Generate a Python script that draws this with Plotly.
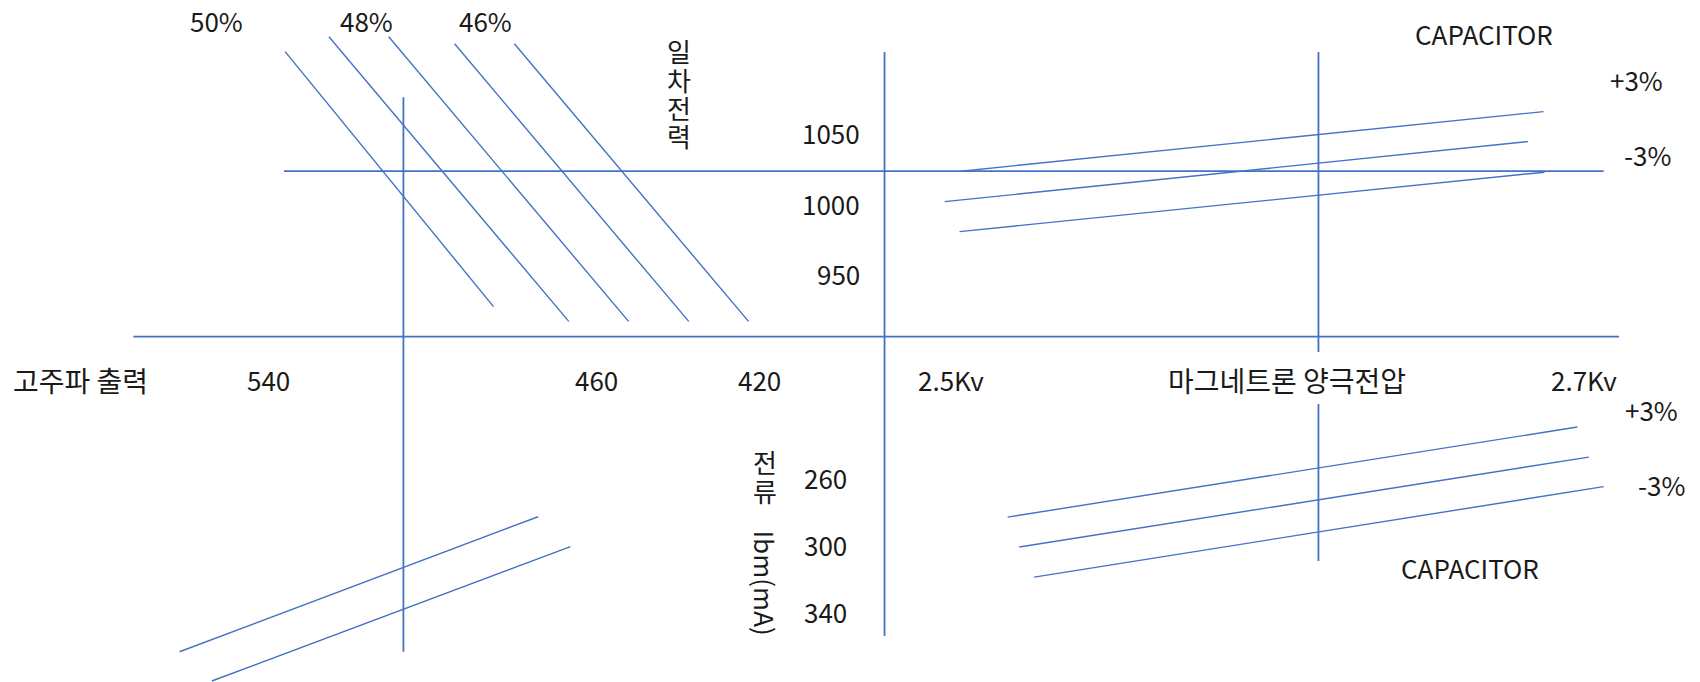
import plotly.graph_objects as go

# ---------------- data ----------------
# tick labels
out_ticks = [540, 460, 420]                 # 고주파 출력 (W)
volt_ticks = [2.5, 2.7]                     # 마그네트론 양극전압 (kV)
volt_tick_text = ["2.5Kv", "2.7Kv"]
prim_ticks = [1050, 1000, 950]              # 일차전력 (W)
curr_ticks = [260, 300, 340]                # 전류 Ibm (mA)

# Quadrant II: efficiency lines (output power -> primary power)
eff_labels = ["50%", "49%", "48%", "47%", "46%"]
eff_out_start = [536.0, 525.3, 510.7, 494.6, 480.0]
eff_prim_start = [1107.5, 1118.0, 1118.0, 1113.0, 1113.0]
eff_out_end = [485.1, 466.7, 452.1, 437.4, 422.8]
eff_prim_end = [926.5, 916.0, 916.0, 916.0, 916.0]

# Quadrant I: anode voltage vs primary power (capacitor +3%, nominal, -3%)
cap_prim_v_start = [2.5031, 2.4980, 2.5027]
cap_prim_start = [1022.6, 1001.0, 979.7]
cap_prim_v_end = [2.6872, 2.6823, 2.6875]
cap_prim_end = [1064.9, 1043.6, 1021.9]

# Quadrant IV: anode voltage vs current
cap_curr_v_start = [2.5179, 2.5216, 2.5263]
cap_curr_start = [283.8, 301.6, 319.5]
cap_curr_v_end = [2.6979, 2.7015, 2.7062]
cap_curr_end = [230.2, 248.1, 265.7]

# Quadrant III: output power vs current
oc_out_start = [561.8, 553.9]
oc_curr_start = [363.9, 381.3]
oc_out_end = [474.2, 466.3]
oc_curr_end = [283.6, 301.4]

# operating point (guide lines) and main axis levels
op_prim = 1022.6     # primary power guide
op_out = 507.1       # output power guide
op_volt = 2.6161     # anode voltage guide
axis_volt = 2.479    # vertical main axis
axis_prim = 905.25   # horizontal main axis

# ---------------- style ----------------
BLUE = "#4472C4"
TXT = "#1a1a1a"
FONT = "Noto Sans CJK KR"
FS = 26
FS_KO = 28
LW = 1.4
GW = 1.8

fig = go.Figure()


def seg(x0, y0, x1, y1, xa, ya):
    fig.add_trace(go.Scatter(
        x=[x0, x1], y=[y0, y1], mode="lines", xaxis=xa, yaxis=ya,
        line=dict(color=BLUE, width=LW), hoverinfo="skip", showlegend=False))


for a, b, c, d in zip(eff_out_start, eff_prim_start, eff_out_end, eff_prim_end):
    seg(a, b, c, d, "x2", "y")
for a, b, c, d in zip(cap_prim_v_start, cap_prim_start, cap_prim_v_end, cap_prim_end):
    seg(a, b, c, d, "x", "y")
for a, b, c, d in zip(cap_curr_v_start, cap_curr_start, cap_curr_v_end, cap_curr_end):
    seg(a, b, c, d, "x", "y2")
for a, b, c, d in zip(oc_out_start, oc_curr_start, oc_out_end, oc_curr_end):
    seg(a, b, c, d, "x2", "y2")

gl = dict(color=BLUE, width=GW)
shapes = [
    # main horizontal axis
    dict(type="line", xref="paper", yref="y", x0=0.07847, x1=0.95235,
         y0=axis_prim, y1=axis_prim, line=gl),
    # primary power guide
    dict(type="line", xref="paper", yref="y", x0=0.16706, x1=0.94335,
         y0=op_prim, y1=op_prim, line=gl),
    # vertical main axis
    dict(type="line", xref="x", yref="paper", x0=axis_volt, x1=axis_volt,
         y0=0.06745, y1=0.92375, line=gl),
    # output power guide
    dict(type="line", xref="x2", yref="paper", x0=op_out, x1=op_out,
         y0=0.04443, y1=0.8573, line=gl),
    # voltage guide (upper and lower)
    dict(type="line", xref="x", yref="paper", x0=op_volt, x1=op_volt,
         y0=0.48387, y1=0.92375, line=gl),
    dict(type="line", xref="x", yref="paper", x0=op_volt, x1=op_volt,
         y0=0.17742, y1=0.40762, line=gl),
]

ann = []


def text(t, x, y, xref="paper", yref="paper", xanchor="center", angle=0, size=FS):
    ann.append(dict(text=t, x=x, y=y, xref=xref, yref=yref, xanchor=xanchor,
                    yanchor="middle", showarrow=False, textangle=angle,
                    font=dict(family=FONT, size=size, color=TXT)))


TICK_ROW = 0.44282
for v in out_ticks:
    text(str(v), v, TICK_ROW, xref="x2")
for v, t in zip(volt_ticks, volt_tick_text):
    text(t, v, TICK_ROW, xref="x")
for v in prim_ticks:
    text(str(v), 0.50735, v, yref="y", xanchor="right")
for v in curr_ticks:
    text(str(v), 0.49941, v, yref="y2", xanchor="right")

text("고주파 출력", 0.04706, TICK_ROW, size=FS_KO)
text("마그네트론 양극전압", 0.75735, TICK_ROW, size=FS_KO)

for t, x in zip(["50%", "48%", "46%"], [0.12753, 0.21559, 0.28571]):
    text(t, x, 0.96979)

# vertically stacked (upright) Korean axis titles
for ch, y in zip("일차전력", [0.92551, 0.88416, 0.84238, 0.80088]):
    text(ch, 0.39959, y)
for ch, y in zip("전류", [0.32302, 0.28152]):
    text(ch, 0.45, y)
text("Ibm(mA)", 0.45, 0.14589, angle=90)

text("CAPACITOR", 0.87294, 0.95015)
text("+3%", 0.96276, 0.8827)
text("-3%", 0.96912, 0.77273)
text("+3%", 0.97118, 0.39883)
text("-3%", 0.97706, 0.28886)
text("CAPACITOR", 0.86471, 0.16862)

fig.update_layout(
    width=1700, height=682,
    margin=dict(l=0, r=0, t=0, b=0),
    paper_bgcolor="white", plot_bgcolor="white",
    showlegend=False,
    xaxis=dict(range=[2.19953, 2.73665], visible=False, fixedrange=True),
    xaxis2=dict(range=[605.65, 190.37], overlaying="x", visible=False, fixedrange=True),
    yaxis=dict(range=[660.1, 1144.1], visible=False, fixedrange=True),
    yaxis2=dict(range=[381.9, -23.8], overlaying="y", visible=False, fixedrange=True),
    shapes=shapes,
    annotations=ann,
)

fig.write_html("out.html", config=dict(displayModeBar=False),
               post_script="document.body.style.margin='0';document.body.style.overflow='hidden';")
